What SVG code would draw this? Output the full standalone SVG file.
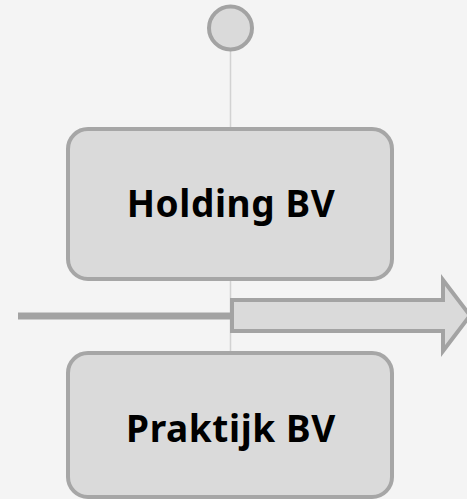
<svg xmlns="http://www.w3.org/2000/svg" width="467" height="499" viewBox="0 0 467 499">
<style>
.box{fill:#dadada;stroke:#a6a6a6;stroke-width:4}
.lbl{font-family:"Noto Sans","DejaVu Sans",sans-serif;font-weight:700;font-size:37px;letter-spacing:0.6px;fill:#000;text-anchor:middle}
.thin{stroke:#d2d2d2;stroke-width:1.5;fill:none}
</style>
<rect width="467" height="499" fill="#f4f4f4"/>
<g id="connectors">
<line class="thin" x1="230.5" y1="50" x2="230.5" y2="128"/>
<line class="thin" x1="230.5" y1="280" x2="230.5" y2="354"/>
<line x1="18" y1="316" x2="232" y2="316" stroke="#a3a3a3" stroke-width="7"/>
<path d="M232 300 H443 V280 L470 315.5 L443 351 V331 H232 Z" fill="#dadada" stroke="#a3a3a3" stroke-width="4" stroke-linejoin="miter"/>
</g>
<g id="start">
<circle cx="230.5" cy="28" r="21.5" fill="#dadada" stroke="#a3a3a3" stroke-width="4"/>
</g>
<g id="holding">
<rect class="box" x="68" y="129" width="324" height="150" rx="20"/>
<text class="lbl" x="231" y="217">Holding BV</text>
</g>
<g id="praktijk">
<rect class="box" x="68" y="353" width="324" height="144" rx="20"/>
<text class="lbl" x="231" y="442">Praktijk BV</text>
</g>
</svg>
